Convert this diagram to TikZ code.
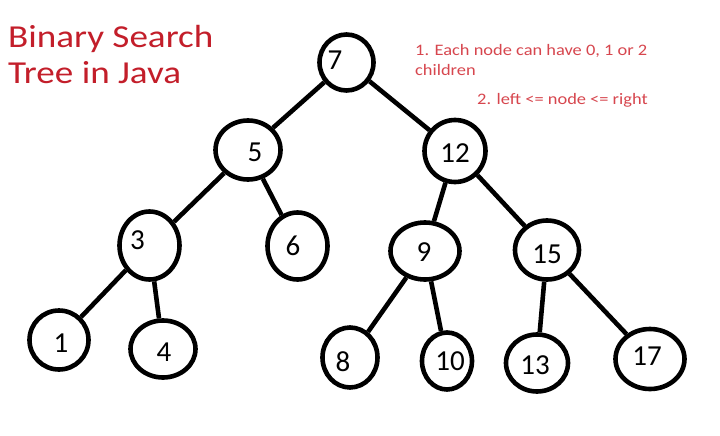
\documentclass[tikz,border=0pt]{standalone}
\usepackage{fontspec}
\setmainfont{Carlito}
\usetikzlibrary{shapes.geometric}
\definecolor{titlered}{RGB}{195,30,42}
\definecolor{notered}{RGB}{215,70,78}
\tikzset{
  bnode/.style={draw=black, line width=4.6pt, ellipse, inner sep=0pt},
  num/.style={font=\fontsize{29}{33}\selectfont, inner sep=0pt},
  edge/.style={draw=black, line width=4.6pt},
  ttl/.style={font=\fontsize{32}{36}\selectfont, text=titlered, anchor=base west, inner sep=0pt},
  note/.style={font=\fontsize{16}{19}\selectfont, text=notered, anchor=base west, inner sep=0pt}
}
\begin{document}
\begin{tikzpicture}[x=1pt,y=-1pt]
\useasboundingbox[fill=white] (0,0) rectangle (720,436);
% title and notes
\node[ttl] (t1) at (8,48) {\scalebox{1.16}[1]{Binary Search}};
\node[ttl] (t2) at (8,83) {\scalebox{1.16}[1]{Tree in Java}};
\node[note] (n1) at (415,56) {\scalebox{1.15}[1]{1. Each node can have 0, 1 or 2}};
\node[note] (n2) at (415,76) {\scalebox{1.15}[1]{children}};
\node[note] (n3t) at (477,104) {\scalebox{1.15}[1]{2. left <= node <= right}};
% nodes (ellipses)
\node[bnode, minimum width=54pt, minimum height=56pt] (a7)  at (346.5,62.5) {};
\node[bnode, minimum width=65pt, minimum height=59pt] (a5)  at (248,150) {};
\node[bnode, minimum width=61pt, minimum height=62pt] (a12) at (455,151) {};
\node[bnode, minimum width=60pt, minimum height=68pt] (a3)  at (149.5,245.5) {};
\node[bnode, minimum width=60pt, minimum height=67pt] (a6)  at (297.5,246) {};
\node[bnode, minimum width=69pt, minimum height=57pt] (a9)  at (425,251) {};
\node[bnode, minimum width=64pt, minimum height=59pt] (a15) at (547,250) {};
\node[bnode, minimum width=59pt, minimum height=59pt] (a1)  at (59,340) {};
\node[bnode, minimum width=65pt, minimum height=57pt] (a4)  at (163,349) {};
\node[bnode, minimum width=55pt, minimum height=60pt] (a8)  at (350,357.5) {};
\node[bnode, minimum width=50pt, minimum height=57pt] (a10) at (447,361) {};
\node[bnode, minimum width=62pt, minimum height=57pt] (a13) at (537,363) {};
\node[bnode, minimum width=69pt, minimum height=60pt] (a17) at (650,359) {};
% labels
\node[num] (l7)  at (335,60) {7};
\node[num] (l5)  at (255,152) {5};
\node[num] (l12) at (455,153) {12};
\node[num] (l3)  at (137.5,240) {3};
\node[num] (l6)  at (293,246) {6};
\node[num] (l9)  at (424,252) {9};
\node[num] (l15) at (547,254) {15};
\node[num] (l1)  at (61,343) {1};
\node[num] (l4)  at (164,352) {4};
\node[num] (l8)  at (343,362) {8};
\node[num] (l10) at (450,361) {10};
\node[num] (l13) at (535,365) {13};
\node[num] (l17) at (647,356) {17};
% edges
\draw[edge] (a7) -- (a5);
\draw[edge] (a7) -- (a12);
\draw[edge] (a5) -- (a3);
\draw[edge] (a5) -- (a6);
\draw[edge] (a12) -- (a9);
\draw[edge] (a12) -- (a15);
\draw[edge] (a3) -- (a1);
\draw[edge] (a3) -- (a4);
\draw[edge] (a9) -- (a8);
\draw[edge] (a9) -- (a10);
\draw[edge] (a15) -- (a13);
\draw[edge] (a15) -- (a17);
\end{tikzpicture}
\end{document}
